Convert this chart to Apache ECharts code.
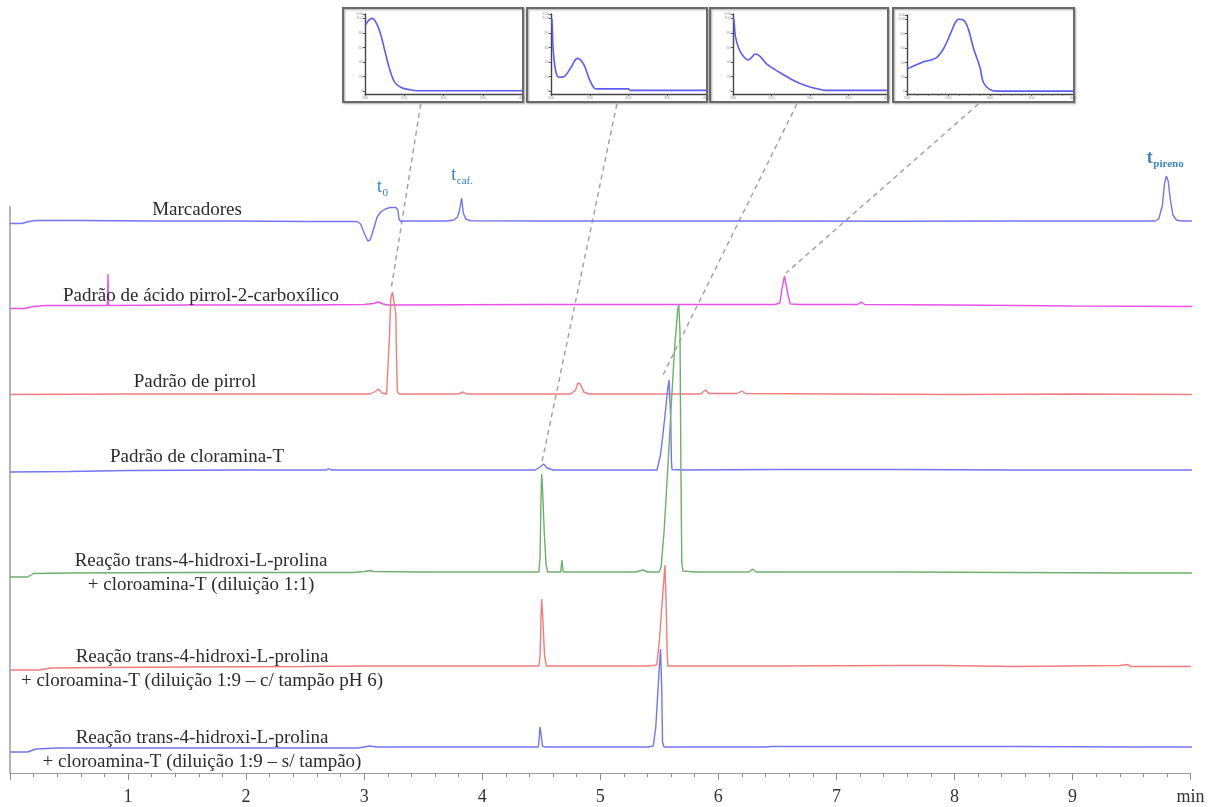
<!DOCTYPE html>
<html>
<head>
<meta charset="utf-8">
<script src="https://cdn.jsdelivr.net/npm/echarts@6/dist/echarts.min.js"></script>
<style>
  html, body { margin: 0; padding: 0; background: #ffffff; }
  #chart { width: 1216px; height: 807px; }
</style>
</head>
<body>
<div id="chart"></div>
<script>
// ---- retention-time axis ----
const timeTicks = [0, 1, 2, 3, 4, 5, 6, 7, 8, 9, 10];
const timeTickLabels = ['', '1', '2', '3', '4', '5', '6', '7', '8', '9', 'min'];

// ---- chromatogram names ----
const traceNames = [
  'Marcadores',
  'Padrão de ácido pirrol-2-carboxílico',
  'Padrão de pirrol',
  'Padrão de cloramina-T',
  'Reação trans-4-hidroxi-L-prolina\n+ cloroamina-T (diluição 1:1)',
  'Reação trans-4-hidroxi-L-prolina\n+ cloroamina-T (diluição 1:9 – c/ tampão pH 6)',
  'Reação trans-4-hidroxi-L-prolina\n+ cloroamina-T (diluição 1:9 – s/ tampão)'
];

// ---- detector signal, [time (min), signal above own baseline] ----
const marcadores = [
  [0, -2.5], [0.1, -2.5], [0.16, -0.5], [0.22, 0.5], [0.6, 0.5], [1.2, 0], [1.9, 0], [2.5, -0.5],
  [2.94, -0.5], [2.97, -3], [3.0, -12], [3.03, -20], [3.05, -19], [3.07, -12], [3.09, -4], [3.11, 4],
  [3.14, 9], [3.18, 12], [3.22, 13.5], [3.27, 13.5], [3.285, 11], [3.295, 2], [3.31, -0.5], [3.35, 0],
  [3.7, 0], [3.76, 1], [3.79, 4], [3.81, 12], [3.825, 23], [3.84, 8], [3.86, 2], [3.9, 0.3],
  [4.5, 0], [5.5, 0], [6.5, 0], [7.5, -0.3], [8.5, 0], [9.3, 0], [9.7, 0], [9.73, 2], [9.76, 15],
  [9.78, 38], [9.795, 45], [9.81, 40], [9.83, 20], [9.85, 6], [9.88, 1], [9.92, 0], [10.05, 0]
];
const padraoAcido = [
  [0, -3.5], [0.12, -3.5], [0.2, -1.5], [0.3, -0.5], [0.825, -0.5], [0.83, 31], [0.835, -0.5],
  [1.5, 0], [2.5, 0], [3.0, 0.5], [3.08, 1.5], [3.12, 3], [3.16, 1], [3.2, 0], [4.5, 0.5],
  [5.5, 0.5], [6.2, 0.5], [6.48, 0.5], [6.52, 2], [6.545, 20], [6.56, 29], [6.575, 27],
  [6.59, 10], [6.61, 1], [6.7, 0.5], [7.18, 0.5], [7.21, 3], [7.24, 0.5], [8.0, 0], [9.0, -1],
  [10.05, -1.5]
];
const padraoPirrol = [
  [0, -0.5], [1, 0], [2, 0], [2.9, 0], [3.05, 0], [3.1, 3], [3.12, 5], [3.15, 1], [3.19, 0],
  [3.205, 1], [3.215, 60], [3.225, 95], [3.24, 102], [3.255, 100], [3.268, 80], [3.275, 30],
  [3.282, 2], [3.3, 0], [3.8, 0], [3.84, 2], [3.87, 0], [4.4, 0], [4.75, 0], [4.79, 4],
  [4.81, 11], [4.83, 10], [4.86, 2], [4.9, 0], [5.85, 0], [5.89, 4], [5.92, 0.5], [6.16, 0.5],
  [6.2, 3], [6.23, 0.5], [7.0, 0], [8.0, -0.5], [9.0, 0], [10.05, -0.5]
];
const padraoCloramina = [
  [0, -2], [0.5, -1.5], [1.0, -0.5], [2.0, 0], [2.68, 0], [2.7, 1.5], [2.72, 0], [3.5, 0],
  [4.45, 0], [4.49, 3], [4.52, 6], [4.55, 2], [4.6, 0], [5.48, 0], [5.49, 2], [5.51, 15],
  [5.53, 35], [5.55, 57], [5.57, 80], [5.582, 90], [5.59, 88], [5.597, 50], [5.602, 10],
  [5.607, 0.5], [5.7, 0], [6.5, 0.5], [7.5, 0.5], [8.5, 0], [9.5, 0], [10.05, 0]
];
const reacao11 = [
  [0, -5], [0.15, -5], [0.2, -1.5], [0.5, -1], [1.5, -0.5], [2.9, -0.5], [3.0, 0.5], [3.05, 1.5],
  [3.08, 0.5], [3.5, 0], [4.0, 0], [4.48, 0], [4.49, 15], [4.497, 70], [4.503, 98], [4.51, 85],
  [4.525, 40], [4.54, 8], [4.555, 0], [4.665, 0], [4.675, 12], [4.685, 0], [5.3, 0], [5.36, 2],
  [5.4, 0], [5.5, 0], [5.515, 5], [5.54, 40], [5.57, 100], [5.6, 165], [5.63, 225], [5.655, 262],
  [5.665, 267], [5.675, 240], [5.683, 100], [5.69, 10], [5.7, 1], [5.8, 0], [6.26, 0], [6.29, 3],
  [6.32, 0], [7.5, 0], [8.5, -0.5], [9.5, -1], [10.05, -1]
];
const reacao19Tampao = [
  [0, -4], [0.25, -4], [0.35, -2], [0.8, -1.5], [1.5, -1], [2.5, -0.5], [3.0, 0], [4.48, 0],
  [4.49, 10], [4.497, 45], [4.503, 67], [4.512, 50], [4.528, 10], [4.545, 0], [5.4, 0],
  [5.478, 1], [5.5, 25], [5.525, 65], [5.548, 101], [5.558, 60], [5.566, 15], [5.572, 0],
  [6.5, 0], [7.5, 0.5], [7.9, 0.5], [7.91, -1.5], [8.5, -0.5], [9.4, 0.5], [9.47, 1.5],
  [9.48, 3], [9.49, -0.5], [10.0, -0.5]
];
const reacao19SemTampao = [
  [0, -5], [0.15, -5], [0.22, -2], [0.4, -1], [1.0, -1], [2.0, -1], [2.95, -1], [3.02, 0.5],
  [3.05, 1], [3.1, 0], [4.4, 0], [4.475, 0], [4.482, 8], [4.489, 20], [4.497, 14], [4.51, 1],
  [4.53, 0], [4.56, 0], [5.0, 0], [5.4, 0], [5.449, 1], [5.47, 20], [5.495, 70], [5.51, 98],
  [5.52, 60], [5.527, 5], [5.54, 0], [5.58, 0], [6.4, 0], [6.45, 0.5], [7.5, 0.5], [8.5, 0.5],
  [9.5, 0], [10.05, 0]
];
const traceData = [marcadores, padraoAcido, padraoPirrol, padraoCloramina,
                   reacao11, reacao19Tampao, reacao19SemTampao];

// ---- UV spectra of selected peaks, [wavelength (nm), relative absorbance %] ----
const uvPeak324 = [
  [200, 90], [208.6, 100], [212.8, 97], [219.2, 81], [225.6, 54], [232, 28], [238, 12],
  [246.8, 4.5], [257.4, 1.8], [266, 0.5], [400, 0.5]
];
const uvPeak451 = [
  [200, 100], [201.2, 98], [203, 54], [206.8, 24], [211, 19], [217, 20], [226, 33], [234, 45],
  [242, 37], [250, 15], [256, 4], [260, 3], [300, 3], [302, 1], [400, 1]
];
const uvPeak553 = [
  [200, 100], [201.2, 98], [203, 76], [207.4, 59], [213.4, 48], [220, 43], [224, 46],
  [228.8, 51], [234.8, 48], [244, 37], [260, 26], [278, 15], [296, 7], [314, 2], [320, 1],
  [400, 1]
];
const uvPeak657 = [
  [200, 31], [210, 36], [220, 41], [228, 43], [236, 47], [244, 59], [252, 79], [258, 95],
  [262, 100], [268, 99], [274, 86], [280, 60], [288, 33], [292, 12], [300, 2], [308, 0], [400, 0]
];
const uvSpectra = [uvPeak324, uvPeak451, uvPeak553, uvPeak657];

// ---- layout & style ----
const SERIF = '"Liberation Serif", "Times New Roman", serif';
const traceOffsets = [552, 468, 379, 303, 201, 107, 26];
const traceColors = ['#7474f4', '#ea52ea', '#f27c7c', '#7474f4', '#6fae6f', '#f27c7c', '#7474f4'];
const labelPlacement = [   // pixel centre of each trace name
  [197, 210], [201, 296], [195, 382], [197, 457], [201, 573], [202, 669], [202, 750]
];
const insetGrids = [
  { left: 365, top: 14, width: 157, height: 80 },
  { left: 551, top: 14, width: 155, height: 80 },
  { left: 733, top: 14, width: 154, height: 80 },
  { left: 907, top: 15, width: 166, height: 79 }
];
const insetPadLeft = [22, 24, 23, 14];
// each spectrum is tied to a chromatographic peak: [trace index, time, height of pointer end]
const insetLinks = [
  { trace: 2, t: 3.227, h: 104, nm: 271 },
  { trace: 3, t: 4.506, h: 8, nm: 285 },
  { trace: 3, t: 5.531, h: 95, nm: 283 },
  { trace: 1, t: 6.573, h: 32, nm: 286 }
];

const chart = echarts.init(document.getElementById('chart'), null, { renderer: 'canvas' });

const grids = [{ left: 10, right: 25.4, top: 207, bottom: 34 }].concat(insetGrids);

const xAxes = [{
  type: 'value', gridIndex: 0, min: 0, max: 10, interval: 1,
  axisLine: { show: true, lineStyle: { color: '#9c9c9c', width: 1.2 } },
  axisTick: { show: true, length: 7, lineStyle: { color: '#8c8c8c' } },
  minorTick: { show: true, splitNumber: 5, length: 4, lineStyle: { color: '#8c8c8c' } },
  splitLine: { show: false },
  axisLabel: {
    margin: 15, fontFamily: SERIF, fontSize: 18, color: '#333',
    formatter: v => timeTickLabels[timeTicks.indexOf(Math.round(v))] || ''
  }
}];
const yAxes = [{
  type: 'value', gridIndex: 0, min: 0, max: 566,
  axisLine: { show: true, lineStyle: { color: '#b4b4b4', width: 2 } },
  axisTick: { show: false }, axisLabel: { show: false }, splitLine: { show: false }
}];
insetGrids.forEach((g, i) => {
  xAxes.push({
    type: 'value', gridIndex: i + 1, min: 200, max: 400,
    axisLine: { show: true, onZero: false, lineStyle: { color: '#444', width: 1.4 } },
    axisTick: { show: true, length: 2, lineStyle: { color: '#555' } },
    minorTick: { show: i === 3, splitNumber: 4, length: 1.5, lineStyle: { color: '#555' } },
    splitLine: { show: false },
    axisLabel: { fontSize: 4, color: '#999', margin: 2 }
  });
  yAxes.push({
    type: 'value', gridIndex: i + 1, min: -4, max: 106,
    axisLine: { show: true, onZero: false, lineStyle: { color: '#444', width: 1.4 } },
    axisTick: { show: true, length: 2, lineStyle: { color: '#555' } },
    splitLine: { show: false },
    axisLabel: { fontSize: 4, color: '#999', margin: 2 }
  });
});

const series = traceData.map((pts, i) => ({
  name: traceNames[i],
  type: 'line',
  xAxisIndex: 0, yAxisIndex: 0,
  data: pts.map(p => [p[0], p[1] + traceOffsets[i]]),
  showSymbol: false, symbol: 'none', clip: false,
  lineStyle: { color: traceColors[i], width: 1.4 },
  z: 3
}));
uvSpectra.forEach((pts, i) => {
  series.push({
    type: 'line', xAxisIndex: i + 1, yAxisIndex: i + 1,
    data: pts, showSymbol: false, symbol: 'none', smooth: 0.35,
    lineStyle: { color: '#5c5cf4', width: 1.6 }, z: 3
  });
});

chart.setOption({
  animation: false,
  backgroundColor: '#ffffff',
  grid: grids,
  xAxis: xAxes,
  yAxis: yAxes,
  series: series
});

// ---- annotations positioned through the axes ----
const px = (t, v) => chart.convertToPixel({ gridIndex: 0 }, [t, v]);
const graphics = [];

// trace names
traceNames.forEach((name, i) => {
  graphics.push({
    type: 'text', x: labelPlacement[i][0], y: labelPlacement[i][1], z: 10,
    style: {
      text: name, font: '19px ' + SERIF, fill: '#2b2b2b',
      align: 'center', verticalAlign: 'middle', lineHeight: 24
    }
  });
});

// retention markers on the first trace
const markerColor = '#3b84c8';
function marker(t, lift, main, sub, bold, subSize) {
  const p = px(t, traceOffsets[0] + lift);
  const w = bold ? 600 : 400;
  graphics.push({
    type: 'text', x: p[0], y: p[1], z: 10,
    style: { text: main, font: w + ' 18px ' + SERIF, fill: markerColor, align: 'right', verticalAlign: 'bottom' }
  });
  graphics.push({
    type: 'text', x: p[0] + 0.5, y: p[1] + 3, z: 10,
    style: { text: sub, font: w + ' ' + subSize + 'px ' + SERIF, fill: markerColor, align: 'left', verticalAlign: 'bottom' }
  });
}
marker(3.15, 25, 't', '0', false, 11);
marker(3.78, 37, 't', 'caf.', false, 11);
marker(9.68, 54, 't', 'pireno', true, 11);

// frames around the spectra and dashed pointers to their peaks
insetGrids.forEach((g, i) => {
  const boxLeft = g.left - insetPadLeft[i];
  const boxTop = 8;
  const boxBottom = 102;
  graphics.push({
    type: 'rect', z: 1,
    shape: { x: boxLeft, y: boxTop, width: g.left + g.width + 1 - boxLeft, height: boxBottom - boxTop },
    style: { fill: 'none', stroke: '#6a6a6a', lineWidth: 2, shadowBlur: 2, shadowColor: 'rgba(0,0,0,0.35)', shadowOffsetX: 1, shadowOffsetY: 1 }
  });
  const link = insetLinks[i];
  const top = chart.convertToPixel({ gridIndex: i + 1 }, [link.nm, 0]);
  const bottom = px(link.t, traceOffsets[link.trace] + link.h);
  graphics.push({
    type: 'line', z: 2,
    shape: { x1: top[0], y1: boxBottom + 2, x2: bottom[0], y2: bottom[1] },
    style: { stroke: '#a4a4a4', lineWidth: 1.5, lineDash: [5, 4] }
  });
});

chart.setOption({ graphic: graphics });
</script>
</body>
</html>
